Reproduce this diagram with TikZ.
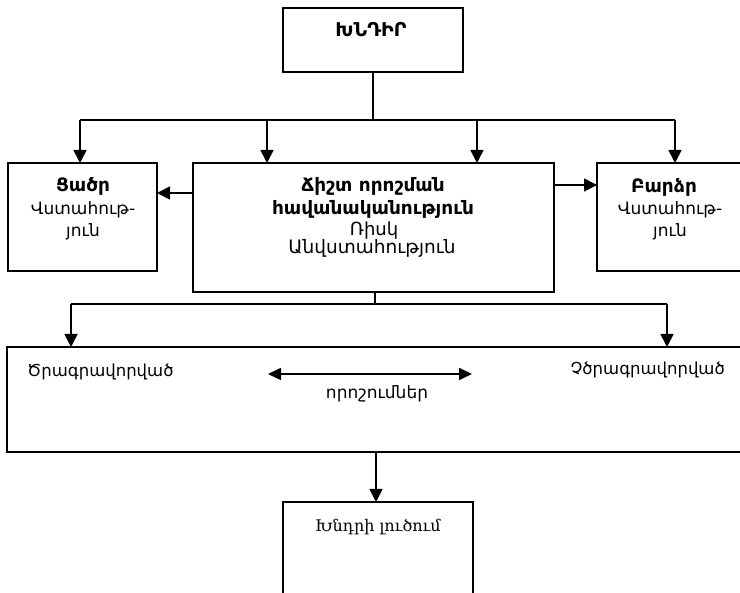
\documentclass[tikz,border=0pt]{standalone}
\usepackage{fontspec}
\setmainfont{DejaVu Sans}
\newfontfamily\armserif{DejaVu Serif}
\usetikzlibrary{arrows.meta}
\begin{document}
\begin{tikzpicture}[x=1pt,y=-1pt,
  box/.style={draw,line width=1.7pt,inner sep=0pt},
  wire/.style={line width=1.7pt},
  arr/.style={line width=1.7pt,-{Triangle[length=13pt,width=13pt]}},
  darr/.style={line width=1.7pt,{Triangle[length=13pt,width=12pt]}-{Triangle[length=13pt,width=12pt]}},
  txt/.style={inner sep=0pt,anchor=base,font=\fontsize{17}{21}\selectfont},
  btxt/.style={inner sep=0pt,anchor=base,font=\fontsize{18.5}{22}\selectfont\bfseries}]
\useasboundingbox (0,0) rectangle (740,593);
\fill[white] (0,0) rectangle (740,593);

% boxes (corner to corner)
\draw[box] (283,8) rectangle (463,72);
\draw[box] (8,163) rectangle (157,271);
\draw[box] (193,163) rectangle (554,292);
\draw[box] (597,163) rectangle (745,271);
\draw[box] (7,347) rectangle (745,452);
\draw[box] (283,502) rectangle (473,600);

% anchor coordinates on the box edges
\coordinate (top-b) at (373,72);
\coordinate (left-t) at (80,163);
\coordinate (left-r) at (157,193);
\coordinate (mid-t1) at (267,163);
\coordinate (mid-t2) at (477,163);
\coordinate (mid-l) at (193,193);
\coordinate (mid-r) at (554,185);
\coordinate (mid-b) at (375,292);
\coordinate (right-t) at (675,163);
\coordinate (right-l) at (597,185);
\coordinate (big-t1) at (71,347);
\coordinate (big-t2) at (667,347);
\coordinate (big-b) at (376,452);
\coordinate (sol-t) at (376,502);
\coordinate (split1) at (373,120);
\coordinate (split2) at (375,304);
\coordinate (da) at (268,374);
\coordinate (db) at (472,374);

% problem to the four boxes below
\draw[wire] (top-b) -- (split1);
\draw[wire] (left-t |- split1) -- (right-t |- split1);
\draw[arr] (left-t |- split1) -- (left-t);
\draw[arr] (mid-t1 |- split1) -- (mid-t1);
\draw[arr] (mid-t2 |- split1) -- (mid-t2);
\draw[arr] (right-t |- split1) -- (right-t);

% sideways arrows from the probability box
\draw[arr] (mid-l) -- (left-r);
\draw[arr] (mid-r) -- (right-l);

% probability box to decisions
\draw[wire] (mid-b) -- (split2);
\draw[wire] (big-t1 |- split2) -- (big-t2 |- split2);
\draw[arr] (big-t1 |- split2) -- (big-t1);
\draw[arr] (big-t2 |- split2) -- (big-t2);

% decisions to solution
\draw[arr] (big-b) -- (sol-t);

% double arrow between the two kinds of decisions
\draw[darr] (da) -- (db);

% texts, placed by baseline
\node[btxt,font=\fontsize{19}{22}\selectfont\bfseries] (t-problem) at (371,37) {ԽՆԴԻՐ};

\node[btxt] (t-low1) at (83,192) {Ցածր};
\node[txt] (t-low2) at (83,215) {Վստահութ-};
\node[txt] (t-low3) at (83,237) {յուն};

\node[btxt] (t-mid1) at (373,192) {Ճիշտ որոշման};
\node[btxt] (t-mid2) at (373,215) {հավանականություն};
\node[txt,font=\fontsize{18}{21}\selectfont] (t-mid3) at (374,236) {Ռիսկ};
\node[txt,font=\fontsize{18.5}{21}\selectfont] (t-mid4) at (372,254) {Անվստահություն};

\node[btxt] (t-high1) at (664,193) {Բարձր};
\node[txt] (t-high2) at (670,215) {Վստահութ-};
\node[txt] (t-high3) at (670,237) {յուն};

\node[txt,anchor=base west,font=\fontsize{16.5}{21}\selectfont] (t-prog) at (27,377) {Ծրագրավորված};
\node[txt,anchor=base east,font=\fontsize{16.5}{21}\selectfont] (t-nonprog) at (725,375) {Չծրագրավորված};
\node[txt] (t-dec) at (377,399) {որոշումներ};
\node[txt,font=\armserif\fontsize{16}{18}\selectfont] (t-sol) at (378,532) {Խնդրի լուծում};
\end{tikzpicture}
\end{document}
